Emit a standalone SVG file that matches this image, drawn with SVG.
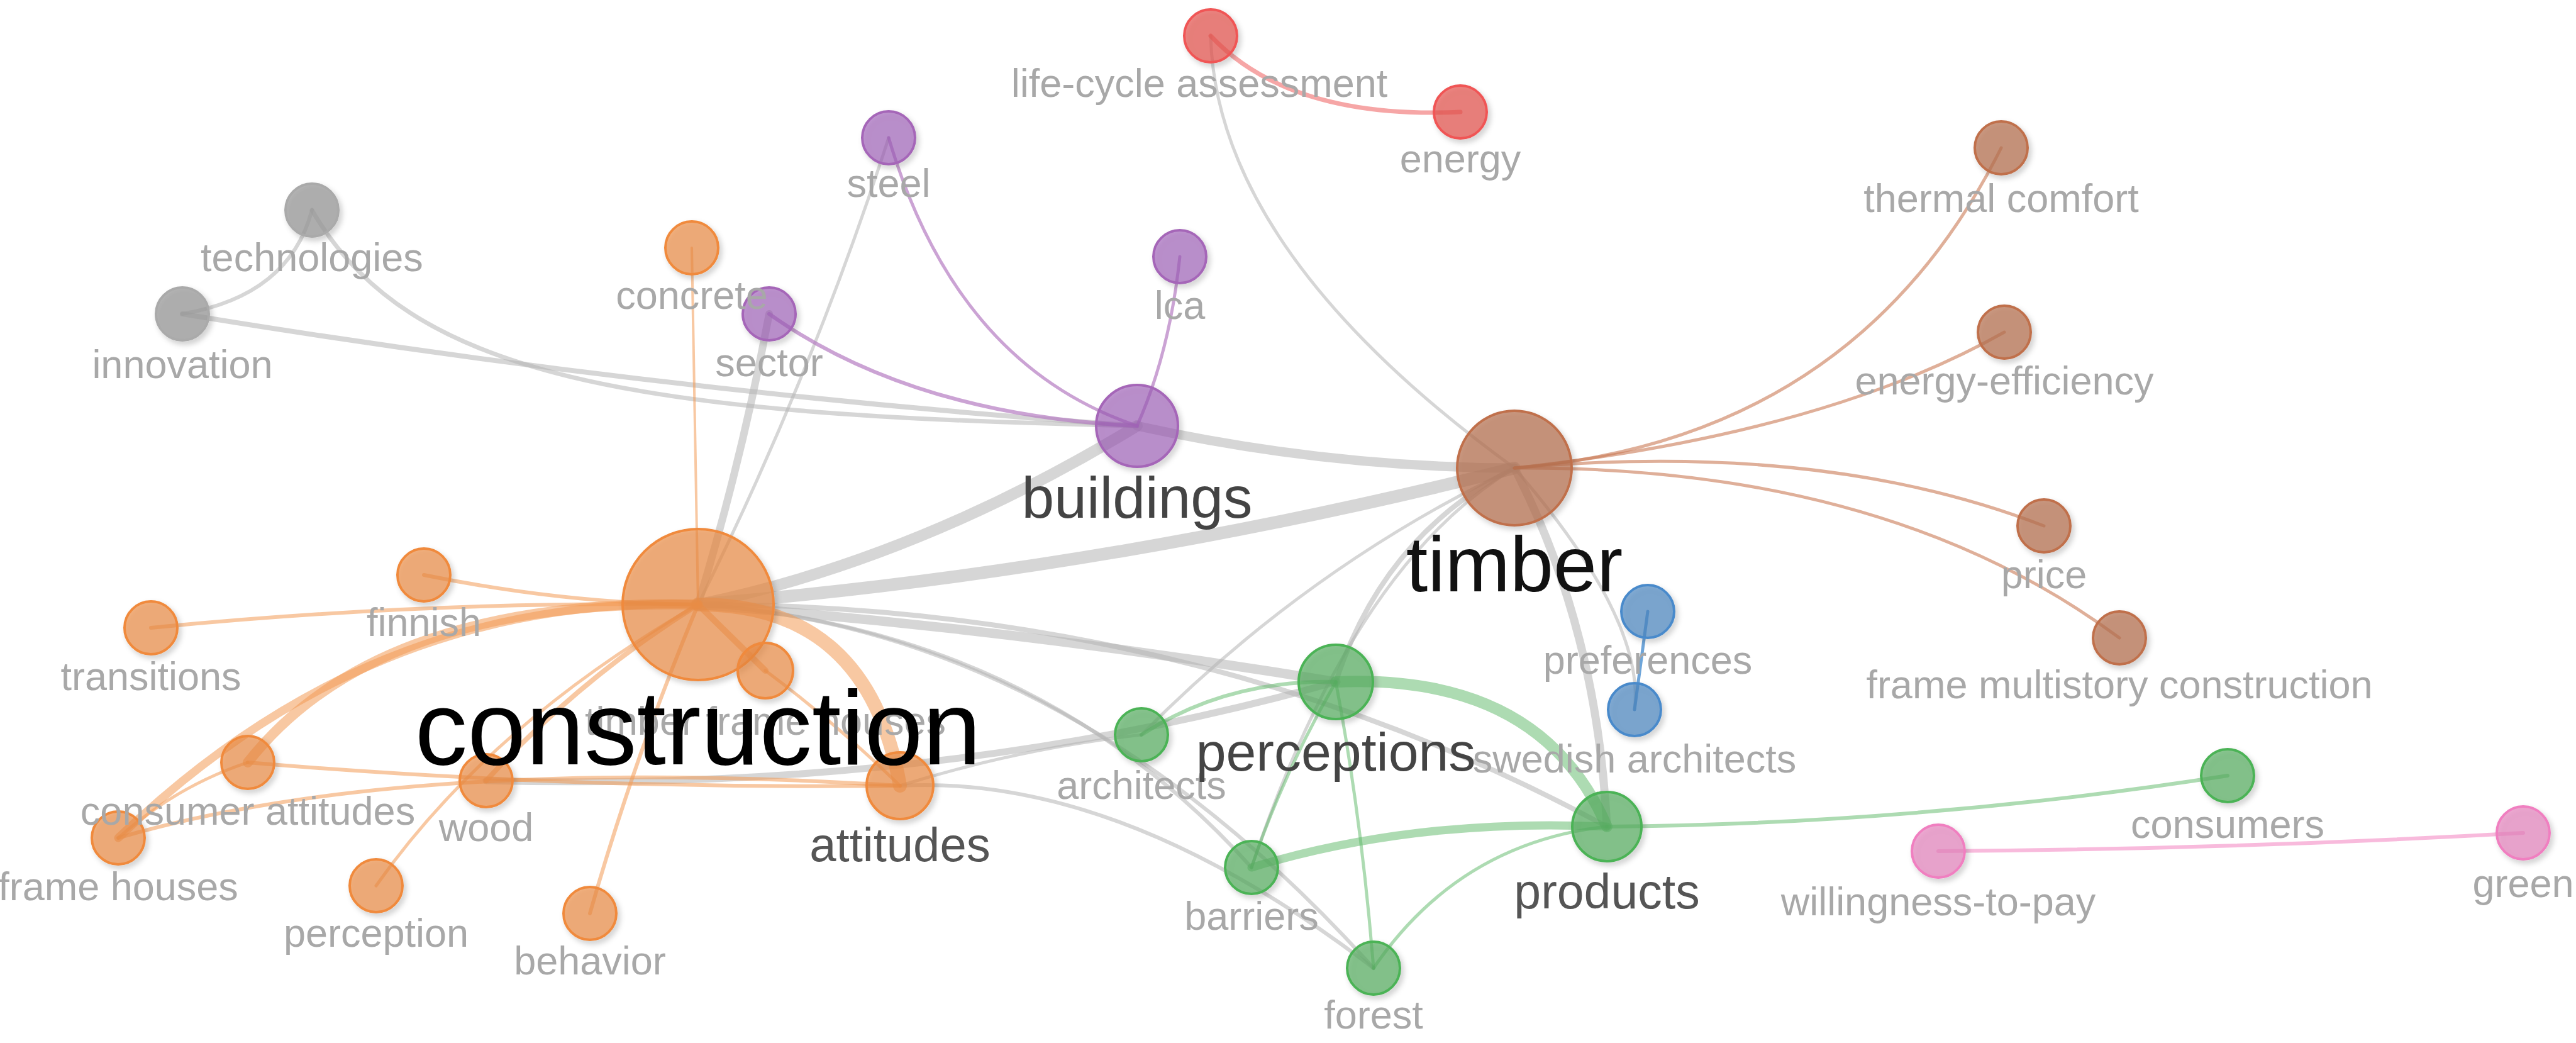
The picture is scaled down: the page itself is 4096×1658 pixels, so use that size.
<svg xmlns="http://www.w3.org/2000/svg" width="4096" height="1658" viewBox="0 0 4096 1658">
<style>
.e{fill:none;stroke-linecap:round}
.g{stroke:#b4b4b4;stroke-opacity:0.55}
.o{stroke:#f39a55;stroke-opacity:0.55}
.pu{stroke:#b57cc2;stroke-opacity:0.7}
.r{stroke:#f06a6a;stroke-opacity:0.6}
.b{stroke:#c97a55;stroke-opacity:0.6}
.bl{stroke:#4a8fd0;stroke-opacity:0.8}
.gr{stroke:#5bb866;stroke-opacity:0.5}
.pk{stroke:#f48cc4;stroke-opacity:0.6}
.n{stroke-width:4;filter:url(#sh)}
.cO{fill:#ec8a40;fill-opacity:0.66;stroke:#f08a3c}
.cP{fill:#9b59b6;fill-opacity:0.62;stroke:#a566b8}
.cG{fill:#999;fill-opacity:0.72;stroke:#aaa}
.cR{fill:#e5504b;fill-opacity:0.68;stroke:#f05555}
.cB{fill:#b5714f;fill-opacity:0.7;stroke:#c0704c}
.cGr{fill:#57ad5e;fill-opacity:0.68;stroke:#4cb356}
.cBl{fill:#4a86c0;fill-opacity:0.68;stroke:#4a8acb}
.cPk{fill:#e583bd;fill-opacity:0.68;stroke:#f07fc0}
text{font-family:"Liberation Sans",Arial,sans-serif;text-anchor:middle}
.s{font-size:63px;fill:#a8a8a8}
</style>
<defs>
<filter id="sh" x="-50%" y="-50%" width="200%" height="200%">
<feDropShadow dx="4" dy="5" stdDeviation="4" flood-color="#000" flood-opacity="0.22"/>
</filter>
</defs>
<rect width="4096" height="1658" fill="#fff"/>
<g id="connectors">
<!-- gray -->
<path class="e g" stroke-width="6" d="M496,334 Q460,470 290,499"/>
<path class="e g" stroke-width="7" d="M496,334 C650,600 1000,660 1808,677"/>
<path class="e g" stroke-width="8" d="M290,499 Q1049,624 1808,677"/>
<path class="e g" stroke-width="12" d="M1223,499 Q1180,730 1110,961"/>
<path class="e g" stroke-width="5" d="M1413,219 Q1290,600 1110,961"/>
<path class="e g" stroke-width="18" d="M1110,961 Q1459,889 1808,677"/>
<path class="e g" stroke-width="20" d="M1110,961 Q1759,908 2408,744"/>
<path class="e g" stroke-width="15" d="M1808,677 Q2108,743 2408,744"/>
<path class="e g" stroke-width="5" d="M1925,57 Q1934,400 2408,744"/>
<path class="e g" stroke-width="15" d="M1110,961 Q1617,1000 2124,1084"/>
<path class="e g" stroke-width="8" d="M1110,961 Q1900,960 2555,1314"/>
<path class="e g" stroke-width="6" d="M1110,961 Q1650,1000 1990,1379"/>
<path class="e g" stroke-width="6" d="M1110,961 Q1700,1000 2184,1539"/>
<path class="e g" stroke-width="6" d="M1431,1249 Q1780,1230 2184,1539"/>
<path class="e g" stroke-width="11" d="M773,1241 Q1500,1260 2124,1084"/>
<path class="e g" stroke-width="5" d="M1431,1249 Q1620,1190 1815,1168"/>
<path class="e g" stroke-width="5" d="M2408,744 Q2080,900 1815,1168"/>
<path class="e g" stroke-width="8" d="M2408,744 Q2200,850 2124,1084"/>
<path class="e g" stroke-width="5" d="M2408,744 Q2150,900 1990,1379"/>
<path class="e g" stroke-width="13" d="M2408,744 Q2540,1000 2555,1314"/>
<path class="e g" stroke-width="5" d="M2408,744 Q2616,984 2599,1128"/>
<!-- orange -->
<path class="e o" stroke-width="4" d="M1110,961 L1100,394"/>
<path class="e o" stroke-width="6" d="M674,914 Q900,960 1110,961"/>
<path class="e o" stroke-width="6" d="M240,998 Q675,955 1110,961"/>
<path class="e o" stroke-width="16" d="M1110,961 Q600,950 394,1212"/>
<path class="e o" stroke-width="13" d="M1110,961 C750,950 450,1080 188,1332"/>
<path class="e o" stroke-width="5" d="M394,1212 Q280,1250 188,1332"/>
<path class="e o" stroke-width="6" d="M394,1212 Q900,1255 1431,1249"/>
<path class="e o" stroke-width="6" d="M188,1332 Q640,1200 1431,1249"/>
<path class="e o" stroke-width="8" d="M1110,961 Q920,1080 773,1241"/>
<path class="e o" stroke-width="5" d="M1110,961 Q780,1150 598,1408"/>
<path class="e o" stroke-width="6" d="M1110,961 Q1010,1200 938,1452"/>
<path class="e o" stroke-width="10" d="M1110,961 L1217,1066"/>
<path class="e o" stroke-width="22" d="M1110,961 Q1380,960 1431,1249"/>
<path class="e o" stroke-width="5" d="M1217,1066 Q1330,1150 1431,1249"/>
<!-- purple -->
<path class="e pu" stroke-width="5" d="M1808,677 Q1520,580 1413,219"/>
<path class="e pu" stroke-width="5" d="M1808,677 Q1860,560 1876,408"/>
<path class="e pu" stroke-width="6" d="M1808,677 Q1450,660 1223,499"/>
<!-- red -->
<path class="e r" stroke-width="7" d="M1925,57 Q2050,190 2322,178"/>
<!-- brown -->
<path class="e b" stroke-width="5" d="M2408,744 Q2950,700 3182,235"/>
<path class="e b" stroke-width="5" d="M2408,744 Q2900,690 3187,528"/>
<path class="e b" stroke-width="5" d="M2408,744 Q2900,700 3250,836"/>
<path class="e b" stroke-width="5" d="M2408,744 Q3000,740 3370,1014"/>
<!-- blue -->
<path class="e bl" stroke-width="5" d="M2620,972 L2599,1128"/>
<!-- green -->
<path class="e gr" stroke-width="18" d="M2124,1084 Q2450,1070 2555,1314"/>
<path class="e gr" stroke-width="6" d="M2124,1084 Q1950,1080 1815,1168"/>
<path class="e gr" stroke-width="5" d="M2124,1084 Q2040,1230 1990,1379"/>
<path class="e gr" stroke-width="5" d="M2124,1084 Q2165,1300 2184,1539"/>
<path class="e gr" stroke-width="13" d="M1990,1379 Q2250,1300 2555,1314"/>
<path class="e gr" stroke-width="5" d="M2184,1539 Q2320,1340 2555,1314"/>
<path class="e gr" stroke-width="6" d="M2555,1314 Q3050,1310 3542,1233"/>
<!-- pink -->
<path class="e pk" stroke-width="6" d="M3082,1353 Q3550,1350 4012,1324"/>
</g>
<g id="n-life-cycle-assessment"><circle class="n cR" cx="1925" cy="57" r="42"/></g>
<g id="n-energy"><circle class="n cR" cx="2322" cy="178" r="42"/></g>
<g id="n-steel"><circle class="n cP" cx="1413" cy="219" r="42"/></g>
<g id="n-lca"><circle class="n cP" cx="1876" cy="408" r="42"/></g>
<g id="n-technologies"><circle class="n cG" cx="496" cy="334" r="42"/></g>
<g id="n-concrete"><circle class="n cO" cx="1100" cy="394" r="42"/></g>
<g id="n-sector"><circle class="n cP" cx="1223" cy="499" r="42"/></g>
<g id="n-innovation"><circle class="n cG" cx="290" cy="499" r="42"/></g>
<g id="n-thermal-comfort"><circle class="n cB" cx="3182" cy="235" r="42"/></g>
<g id="n-energy-efficiency"><circle class="n cB" cx="3187" cy="528" r="42"/></g>
<g id="n-buildings"><circle class="n cP" cx="1808" cy="677" r="65"/></g>
<g id="n-timber"><circle class="n cB" cx="2408" cy="744" r="91"/></g>
<g id="n-price"><circle class="n cB" cx="3250" cy="836" r="42"/></g>
<g id="n-frame-multistory-construction"><circle class="n cB" cx="3370" cy="1014" r="42"/></g>
<g id="n-preferences"><circle class="n cBl" cx="2620" cy="972" r="42"/></g>
<g id="n-swedish-architects"><circle class="n cBl" cx="2599" cy="1128" r="42"/></g>
<g id="n-construction"><circle class="n cO" cx="1110" cy="961" r="120"/></g>
<g id="n-finnish"><circle class="n cO" cx="674" cy="914" r="42"/></g>
<g id="n-transitions"><circle class="n cO" cx="240" cy="998" r="42"/></g>
<g id="n-timber-frame-houses"><circle class="n cO" cx="1217" cy="1066" r="44"/></g>
<g id="n-consumer-attitudes"><circle class="n cO" cx="394" cy="1212" r="42"/></g>
<g id="n-wood"><circle class="n cO" cx="773" cy="1241" r="42"/></g>
<g id="n-frame-houses"><circle class="n cO" cx="188" cy="1332" r="42"/></g>
<g id="n-perception"><circle class="n cO" cx="598" cy="1408" r="42"/></g>
<g id="n-behavior"><circle class="n cO" cx="938" cy="1452" r="42"/></g>
<g id="n-attitudes"><circle class="n cO" cx="1431" cy="1249" r="53"/></g>
<g id="n-architects"><circle class="n cGr" cx="1815" cy="1168" r="42"/></g>
<g id="n-perceptions"><circle class="n cGr" cx="2124" cy="1084" r="59"/></g>
<g id="n-barriers"><circle class="n cGr" cx="1990" cy="1379" r="42"/></g>
<g id="n-forest"><circle class="n cGr" cx="2184" cy="1539" r="42"/></g>
<g id="n-products"><circle class="n cGr" cx="2555" cy="1314" r="55"/></g>
<g id="n-consumers"><circle class="n cGr" cx="3542" cy="1233" r="42"/></g>
<g id="n-willingness-to-pay"><circle class="n cPk" cx="3082" cy="1353" r="42"/></g>
<g id="n-green"><circle class="n cPk" cx="4012" cy="1324" r="42"/></g>
<g id="labels">
<text class="s" x="1907" y="154">life-cycle assessment</text>
<text class="s" x="2322" y="274">energy</text>
<text class="s" x="1413" y="313">steel</text>
<text class="s" x="496" y="431">technologies</text>
<text class="s" x="1100" y="491">concrete</text>
<text class="s" x="1223" y="598">sector</text>
<text class="s" x="1876" y="507">lca</text>
<text class="s" x="290" y="601">innovation</text>
<text class="s" x="3182" y="337">thermal comfort</text>
<text class="s" x="3187" y="627">energy-efficiency</text>
<text class="s" x="3250" y="935">price</text>
<text class="s" x="3370" y="1110">frame multistory construction</text>
<text class="s" x="2620" y="1071">preferences</text>
<text class="s" x="2599" y="1228">swedish architects</text>
<text class="s" x="674" y="1011">finnish</text>
<text class="s" x="240" y="1097">transitions</text>
<text class="s" x="1217" y="1168">timber frame houses</text>
<text class="s" x="394" y="1311">consumer attitudes</text>
<text class="s" x="773" y="1337">wood</text>
<text class="s" x="188" y="1431">frame houses</text>
<text class="s" x="598" y="1505">perception</text>
<text class="s" x="938" y="1549">behavior</text>
<text class="s" x="1815" y="1270">architects</text>
<text class="s" x="1990" y="1478">barriers</text>
<text class="s" x="2184" y="1635">forest</text>
<text class="s" x="3542" y="1332">consumers</text>
<text class="s" x="3082" y="1455">willingness-to-pay</text>
<text class="s" x="4012" y="1426">green</text>
<text x="1808" y="823" style="font-size:93px;fill:#444">buildings</text>
<text x="2124" y="1225" style="font-size:86px;fill:#444">perceptions</text>
<text x="2555" y="1444" style="font-size:77px;fill:#555">products</text>
<text x="1431" y="1369" style="font-size:76px;fill:#555">attitudes</text>
<text x="2408" y="940" style="font-size:124px;fill:#111">timber</text>
<text x="1110" y="1215" style="font-size:167px;fill:#000">construction</text>
</g>
</svg>
